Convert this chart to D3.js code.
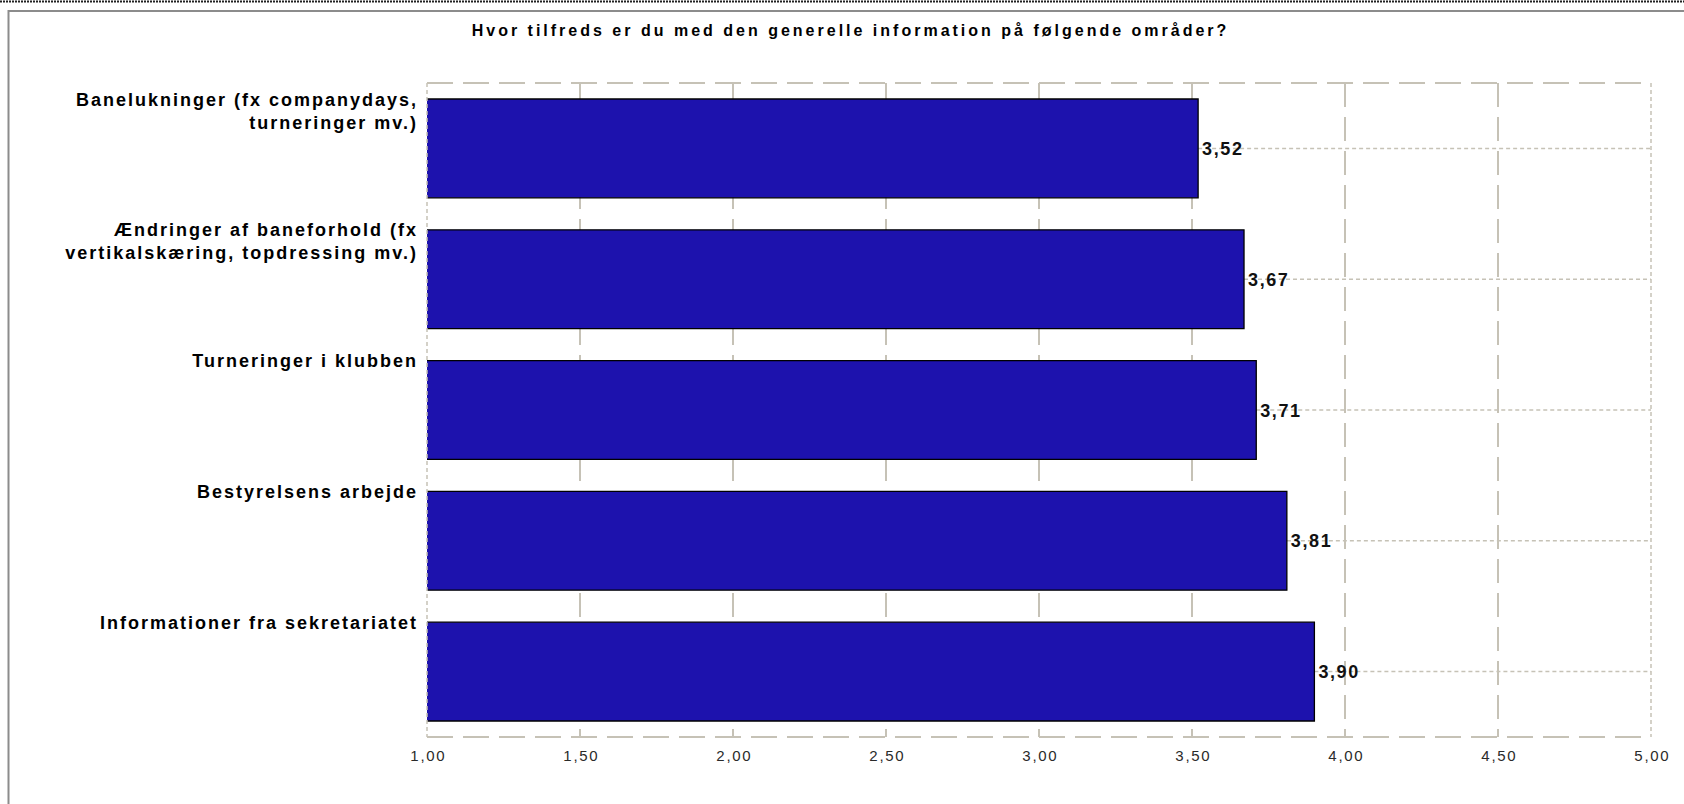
<!DOCTYPE html>
<html>
<head>
<meta charset="utf-8">
<script src="https://cdn.jsdelivr.net/npm/d3@7"></script>
<style>
  html, body { margin: 0; padding: 0; background: #fff; }
  svg { display: block; font-family: "Liberation Sans", Arial, sans-serif; }
</style>
</head>
<body>
<svg id="chart" width="1684" height="804"></svg>
<script>
// ---- data ----
const title = "Hvor tilfreds er du med den generelle information på følgende områder?";
const categories = [
  ["Banelukninger (fx companydays,", "turneringer mv.)"],
  ["Ændringer af baneforhold (fx", "vertikalskæring, topdressing mv.)"],
  ["Turneringer i klubben"],
  ["Bestyrelsens arbejde"],
  ["Informationer fra sekretariatet"]
];
const values = [3.52, 3.67, 3.71, 3.81, 3.90];
const tickValues = [1.00, 1.50, 2.00, 2.50, 3.00, 3.50, 4.00, 4.50, 5.00];
const xDomain = [1, 5];

// ---- layout ----
const W = 1684, H = 804;
const plot = { left: 427, right: 1651, top: 83, bottom: 737 };
const gridColor = "#c6c2b6";
const barColor = "#1d12ad";

const locale = d3.formatLocale({ decimal: ",", thousands: ".", grouping: [3], currency: ["", " kr"] });
const fmt = locale.format(".2f");

const svg = d3.select("#chart");

const x = d3.scaleLinear().domain(xDomain).range([plot.left, plot.right]);
const y = d3.scaleBand()
  .domain(d3.range(categories.length))
  .range([plot.top, plot.bottom])
  .paddingInner(0.245)
  .paddingOuter(0.1225);

// outer frame
svg.append("line").attr("x1", 0).attr("x2", W).attr("y1", 1.5).attr("y2", 1.5)
  .attr("stroke", "#222").attr("stroke-width", 2).attr("stroke-dasharray", "2 1");
svg.append("path").attr("d", `M8.5,${H} V11 H${W}`)
  .attr("fill", "none").attr("stroke", "#8c8c8c").attr("stroke-width", 2);

// title
const titleLS = 3.0;
svg.append("text")
  .attr("x", 849 + titleLS / 2).attr("y", 36)
  .attr("text-anchor", "middle")
  .style("font-size", "16px").style("font-weight", "bold")
  .style("letter-spacing", titleLS + "px")
  .attr("fill", "#000")
  .text(title);

// vertical gridlines (interior ticks)
const g = svg.append("g");
g.selectAll("line.vgrid")
  .data(tickValues.filter(t => t > xDomain[0] && t < xDomain[1]))
  .join("line").attr("class", "vgrid")
  .attr("x1", d => x(d)).attr("x2", d => x(d))
  .attr("y1", plot.top).attr("y2", plot.bottom)
  .attr("stroke", gridColor).attr("stroke-width", 2)
  .attr("stroke-dasharray", "24 10");

// top & bottom plot boundaries
[plot.top, plot.bottom].forEach(yy => {
  g.append("line").attr("x1", plot.left).attr("x2", plot.right)
    .attr("y1", yy).attr("y2", yy)
    .attr("stroke", gridColor).attr("stroke-width", 2)
    .attr("stroke-dasharray", "26 10");
});
// right plot boundary
g.append("line").attr("x1", plot.right).attr("x2", plot.right)
  .attr("y1", plot.top).attr("y2", plot.bottom)
  .attr("stroke", gridColor).attr("stroke-width", 1.5)
  .attr("stroke-dasharray", "4 3");

// value reference lines
g.selectAll("line.vline")
  .data(values)
  .join("line").attr("class", "vline")
  .attr("x1", d => x(d)).attr("x2", plot.right)
  .attr("y1", (d, i) => y(i) + y.bandwidth() / 2)
  .attr("y2", (d, i) => y(i) + y.bandwidth() / 2)
  .attr("stroke", gridColor).attr("stroke-width", 1.5)
  .attr("stroke-dasharray", "4 3");

// bars
const bars = svg.append("g");
bars.selectAll("rect")
  .data(values)
  .join("rect")
  .attr("x", x(xDomain[0]))
  .attr("y", (d, i) => y(i))
  .attr("width", d => x(d) - x(xDomain[0]))
  .attr("height", y.bandwidth())
  .attr("fill", barColor);
bars.selectAll("path")
  .data(values)
  .join("path")
  .attr("d", (d, i) => {
    const x0 = x(xDomain[0]), x1 = x(d), y0 = y(i), y1 = y(i) + y.bandwidth();
    return `M${x0},${y0} H${x1} V${y1} H${x0}`;
  })
  .attr("fill", "none").attr("stroke", "#000").attr("stroke-width", 1.3);

// left plot boundary (dotted, over bars)
svg.append("line").attr("x1", plot.left).attr("x2", plot.left)
  .attr("y1", plot.top).attr("y2", plot.bottom)
  .attr("stroke", gridColor).attr("stroke-width", 1.5)
  .attr("stroke-dasharray", "4 3");

// value labels
const valLS = 1.6;
svg.append("g").selectAll("text")
  .data(values)
  .join("text")
  .attr("x", d => x(d) + 4)
  .attr("y", (d, i) => y(i) + y.bandwidth() / 2 + 6.5)
  .style("font-size", "18px").style("font-weight", "bold")
  .style("letter-spacing", valLS + "px")
  .attr("fill", "#111")
  .text(d => fmt(d));

// category labels
const catLS = 2.0;
const labelRight = 416;
const cl = svg.append("g").selectAll("text")
  .data(categories)
  .join("text")
  .attr("x", labelRight + catLS)
  .attr("y", (d, i) => y(i) + 6.5)
  .attr("text-anchor", "end")
  .style("font-size", "18px").style("font-weight", "bold")
  .style("letter-spacing", catLS + "px")
  .attr("fill", "#000");
cl.selectAll("tspan")
  .data(d => d)
  .join("tspan")
  .attr("x", labelRight + catLS)
  .attr("dy", (d, i) => i === 0 ? 0 : 23)
  .text(d => d);

// x axis tick labels
const tickLS = 1.7;
const axis = d3.axisBottom(x).tickValues(tickValues).tickFormat(fmt).tickSize(0).tickPadding(0);
const ax = svg.append("g").attr("transform", `translate(0,${plot.bottom})`).call(axis);
ax.select(".domain").remove();
ax.selectAll("text")
  .attr("y", 24).attr("dy", null)
  .attr("dx", tickLS / 2)
  .style("font-size", "15px")
  .style("font-family", "'Liberation Sans', Arial, sans-serif")
  .style("letter-spacing", tickLS + "px")
  .attr("fill", "#2a2a2a");
</script>
</body>
</html>
